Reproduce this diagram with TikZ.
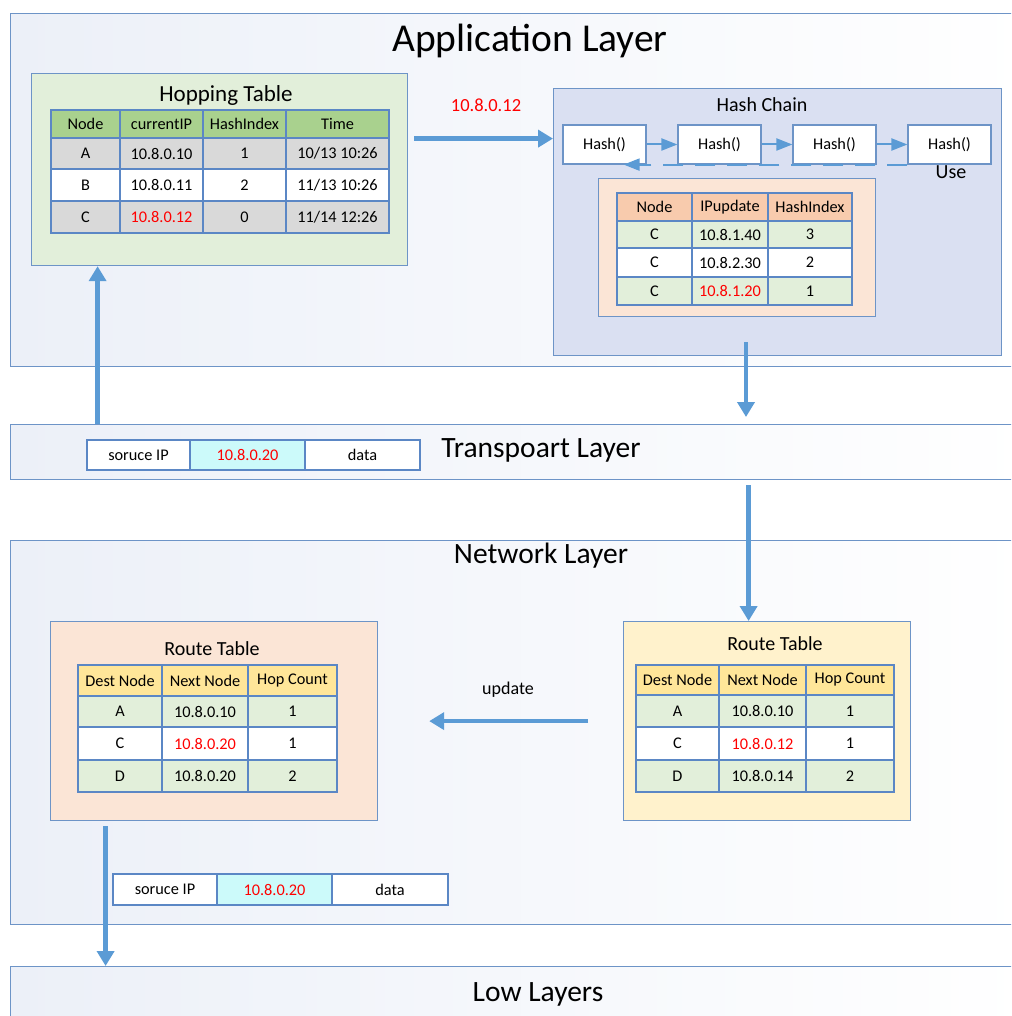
\documentclass[tikz,border=0pt]{standalone}
\usepackage{fontspec}
\setmainfont{Carlito}
\usepackage{tikz}
\usetikzlibrary{arrows.meta,matrix,positioning}
\definecolor{laybd}{RGB}{109,148,199}
\definecolor{laybg}{RGB}{236,240,248}
\definecolor{arrowblue}{RGB}{91,155,213}
\definecolor{tabbd}{RGB}{91,135,197}
\definecolor{hopbg}{RGB}{226,239,218}
\definecolor{hashbg}{RGB}{218,224,242}
\definecolor{peachbg}{RGB}{251,229,214}
\definecolor{yellowbg}{RGB}{255,242,204}
\definecolor{hdgreen}{RGB}{169,209,142}
\definecolor{hdpeach}{RGB}{248,203,173}
\definecolor{hdyellow}{RGB}{255,230,153}
\definecolor{rowgreen}{RGB}{226,239,218}
\definecolor{rowgrey}{RGB}{217,217,217}
\definecolor{cyancell}{RGB}{204,250,250}

\begin{document}
\begin{tikzpicture}[x=1pt,y=-1pt,
  layer/.style={draw=laybd,line width=1.2pt,left color=laybg,right color=white,
    minimum width=1020pt,anchor=north west},
  tabbox/.style={draw=laybd,line width=1.2pt,anchor=north west},
  datatab/.style={matrix of nodes,column sep=-1.2pt,row sep=-1.2pt,
    nodes={draw=tabbd,line width=1.2pt,fill=white,anchor=center,inner sep=1pt,
      font=\fontsize{16.3}{19}\selectfont}},
  hashfn/.style={draw=laybd,line width=1.2pt,fill=white,minimum width=83pt,
    minimum height=39pt,font=\fontsize{16.3}{19}\selectfont},
  bigarrow/.style={draw=arrowblue,line width=4.5pt,-{Triangle[width=17pt,length=15pt]}},
  thinarrow/.style={draw=arrowblue,line width=2pt,-{Triangle[width=12pt,length=16pt]}},
  layertitle/.style={font=\fontsize{29.5}{33}\selectfont},
  boxtitle/.style={font=\fontsize{20}{23}\selectfont}]
\path[use as bounding box,clip] (0,0) rectangle (1011,1016);

% layers
\node[layer,minimum height=353pt] (app) at (10,13) {};
\node[layer,minimum height=55pt] (trans) at (10,424) {};
\node[layer,minimum height=384pt] (net) at (10,540) {};
\node[layer,minimum height=94pt] (low) at (10,966) {};
\node[layertitle,font=\fontsize{39.5}{44}\selectfont] (apptitle) at (530,41) {Application Layer};
\node[layertitle] (transtitle) at (541,450) {Transpoart Layer};
\node[layertitle] (nettitle) at (541,556) {Network Layer};
\node[layertitle] (lowtitle) at (538,994) {Low Layers};

% hopping table
\node[tabbox,fill=hopbg,minimum width=376pt,minimum height=192pt] (hopbox) at (31,73) {};
\node[font=\fontsize{23}{27}\selectfont] (hoptitle) at (226,95) {Hopping Table};
\matrix[datatab,
  column 1/.style={nodes={minimum width=69pt}},
  column 2/.style={nodes={minimum width=83pt}},
  column 3/.style={nodes={minimum width=83pt}},
  column 4/.style={nodes={minimum width=103pt}},
  row 1/.style={nodes={fill=hdgreen,minimum height=28pt}},
  row 2/.style={nodes={fill=rowgrey,minimum height=31pt}},
  row 3/.style={nodes={minimum height=32pt}},
  row 4/.style={nodes={fill=rowgrey,minimum height=32pt}}] (hop) at (220,171.5) {
  Node & currentIP & HashIndex & Time \\
  A & 10.8.0.10 & 1 & 10/13 10:26 \\
  B & 10.8.0.11 & 2 & 11/13 10:26 \\
  C & \textcolor{red}{10.8.0.12} & 0 & 11/14 12:26 \\
};

% hash chain
\node[tabbox,fill=hashbg,minimum width=448pt,minimum height=267pt] (hashbox) at (553,88) {};
\node[boxtitle] (hashtitle) at (762,105) {Hash Chain};
\foreach \i/\xx in {1/604.5,2/719.5,3/834.5,4/949.5}
  \node[hashfn] (h\i) at (\xx,144.5) {Hash()};
\foreach \i/\j in {1/2,2/3,3/4}
  \draw[thinarrow] (h\i) -- (h\j);
\draw[thinarrow,dash pattern=on 20pt off 12pt] (h4.south west) -- ([xshift=-23pt]h1.south east);
\node[boxtitle] (use) at (951,172) {Use};

\node[tabbox,fill=peachbg,minimum width=277pt,minimum height=138pt] (hixbox) at (598,178) {};
\matrix[datatab,
  column 1/.style={nodes={minimum width=75pt}},
  column 2/.style={nodes={minimum width=76pt}},
  column 3/.style={nodes={minimum width=84pt}},
  row 1/.style={nodes={fill=hdpeach,minimum height=28pt}},
  row 2/.style={nodes={fill=rowgreen,minimum height=27pt}},
  row 3/.style={nodes={minimum height=29pt}},
  row 4/.style={nodes={fill=rowgreen,minimum height=28pt}}] (hix) at (734.5,249) {
  Node & IPupdate & HashIndex \\
  C & 10.8.1.40 & 3 \\
  C & 10.8.2.30 & 2 \\
  C & \textcolor{red}{10.8.1.20} & 1 \\
};

% transport packet
\matrix[datatab,
  column 1/.style={nodes={minimum width=103pt}},
  column 2/.style={nodes={minimum width=115pt,fill=cyancell}},
  column 3/.style={nodes={minimum width=115pt}},
  row 1/.style={nodes={minimum height=30pt}}] (pkt1) at (253.5,455) {
  soruce IP & \textcolor{red}{10.8.0.20} & data \\
};

% route tables
\node[tabbox,fill=peachbg,minimum width=327pt,minimum height=199pt] (rtLbox) at (50,621) {};
\node[boxtitle] (rtLtitle) at (212,649) {Route Table};
\matrix[datatab,
  column 1/.style={nodes={minimum width=84pt}},
  column 2/.style={nodes={minimum width=86pt}},
  column 3/.style={nodes={minimum width=89pt}},
  row 1/.style={nodes={fill=hdyellow,minimum height=31pt}},
  row 2/.style={nodes={fill=rowgreen,minimum height=31pt}},
  row 3/.style={nodes={minimum height=33pt}},
  row 4/.style={nodes={fill=rowgreen,minimum height=32pt}}] (rtL) at (207.5,728.5) {
  Dest Node & Next Node & Hop Count \\
  A & 10.8.0.10 & 1 \\
  C & \textcolor{red}{10.8.0.20} & 1 \\
  D & 10.8.0.20 & 2 \\
};

\node[tabbox,fill=yellowbg,minimum width=287pt,minimum height=199pt] (rtRbox) at (623,621) {};
\node[boxtitle] (rtRtitle) at (775,644) {Route Table};
\matrix[datatab,
  column 1/.style={nodes={minimum width=83pt}},
  column 2/.style={nodes={minimum width=87pt}},
  column 3/.style={nodes={minimum width=88pt}},
  row 1/.style={nodes={fill=hdyellow,minimum height=30pt}},
  row 2/.style={nodes={fill=rowgreen,minimum height=32pt}},
  row 3/.style={nodes={minimum height=33pt}},
  row 4/.style={nodes={fill=rowgreen,minimum height=32pt}}] (rtR) at (765,728.5) {
  Dest Node & Next Node & Hop Count \\
  A & 10.8.0.10 & 1 \\
  C & \textcolor{red}{10.8.0.12} & 1 \\
  D & 10.8.0.14 & 2 \\
};

% network packet
\matrix[datatab,
  column 1/.style={nodes={minimum width=104pt}},
  column 2/.style={nodes={minimum width=115pt,fill=cyancell}},
  column 3/.style={nodes={minimum width=116pt}},
  row 1/.style={nodes={minimum height=31pt}}] (pkt2) at (280.5,889.5) {
  soruce IP & \textcolor{red}{10.8.0.20} & data \\
};

% arrows
\coordinate (ipout) at ([xshift=6pt,yshift=31pt]hopbox.east);
\draw[bigarrow] (ipout) -- (hashbox.west |- ipout);
\node[red,font=\fontsize{18.5}{22}\selectfont] (iplabel) at (486,105) {10.8.0.12};
\coordinate (hashout) at (746,342);
\draw[bigarrow] (hashout) -- ([yshift=7pt]hashout |- trans.north);
\draw[bigarrow] ([xshift=-122pt]hopbox.south |- trans.north) -- ([xshift=-122pt]hopbox.south);
\draw[bigarrow] ([xshift=-18.5pt,yshift=-5pt]rtRbox.north |- trans.south) -- ([xshift=-18.5pt]rtRbox.north);
\draw[bigarrow] ([xshift=-35pt]rtRbox.west) -- ([xshift=51pt]rtLbox.east);
\node[font=\fontsize{18}{21}\selectfont] (updlabel) at (508,690) {update};
\draw[bigarrow] ([xshift=-108.5pt,yshift=-5pt]rtLbox.south) -- ([xshift=-108.5pt]rtLbox.south |- low.north);
\end{tikzpicture}
\end{document}
